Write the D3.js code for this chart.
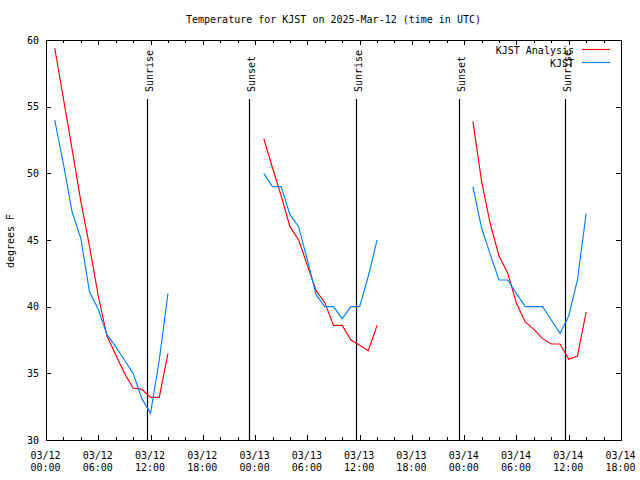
<!DOCTYPE html>
<html><head><meta charset="utf-8">
<script src="https://cdn.jsdelivr.net/npm/d3@7"></script>
<style>
body{margin:0;background:#fff}
text{font-family:"DejaVu Sans Mono","Liberation Mono",monospace;font-size:10px;fill:#000}
</style>
</head><body><svg id="c" width="640" height="480"></svg>
<script>
// ---- data ----
const titleText = "Temperature for KJST on 2025-Mar-12 (time in UTC)";
const yTitle = "degrees F";
const dates = ["2025-03-12", "2025-03-13", "2025-03-14"];
const hoursOfDay = [1,2,3,4,5,6,7,8,9,10,11,12,13,14];
const analysisDay1 = [59.4,55.6,51.8,47.9,44.5,40.8,37.8,36.4,35.0,33.9,33.8,33.2,33.2,36.5];
const analysisDay2 = [52.6,50.4,48.3,46.0,45.0,43.1,41.2,40.3,38.6,38.6,37.5,37.1,36.7,38.6];
const analysisDay3 = [53.9,49.4,46.2,43.8,42.5,40.25,38.85,38.3,37.6,37.2,37.2,36.05,36.3,39.6];
const obsDay1 = [54.0,50.7,47.1,45.1,41.1,39.8,37.9,37.0,36.0,35.0,33.1,32.0,36.0,41.0];
const obsDay2 = [50.0,49.0,49.0,46.9,46.0,43.5,40.9,40.0,40.0,39.1,40.0,40.0,42.3,45.0];
const obsDay3 = [49.0,45.9,43.9,42.0,42.0,41.0,40.0,40.0,40.0,39.0,38.0,39.3,42.0,47.0];
const seriesNames = ["KJST Analysis", "KJST"];
const seriesColors = ["#ff0000", "#0080ff"];
const sunLabels = ["Sunrise", "Sunset", "Sunrise", "Sunset", "Sunrise"];
const sunTimes = ["2025-03-12T11:37:00Z", "2025-03-12T23:16:00Z", "2025-03-13T11:37:00Z", "2025-03-13T23:21:00Z", "2025-03-14T11:36:00Z"];
const xDomain = ["2025-03-12T00:00:00Z", "2025-03-14T18:00:00Z"];
const yTicks = [30, 35, 40, 45, 50, 55, 60];

// ---- build ----
const svg = d3.select("#c");
const L = 46, R = 621, T = 40, B = 440;
const x = d3.scaleUtc().domain(xDomain.map(d => new Date(d))).range([L, R]);
const y = d3.scaleLinear().domain([30, 60]).range([B, T]);

const tOf = (date, h) => new Date(date + "T" + String(h).padStart(2, "0") + ":00:00Z");
const analysis = [analysisDay1, analysisDay2, analysisDay3];
const obs = [obsDay1, obsDay2, obsDay3];

// title
svg.append("text").attr("x", (L + R) / 2).attr("y", 23).attr("text-anchor", "middle").text(titleText);
// y title
svg.append("text").attr("transform", "translate(14,241) rotate(-90)").attr("text-anchor", "middle").text(yTitle);

const fmtDay = d3.utcFormat("%m/%d"), fmtHr = d3.utcFormat("%H:%M");

// bottom axis major
const xb = svg.append("g").attr("transform", `translate(0,${B})`)
  .call(d3.axisBottom(x).ticks(d3.utcHour.every(6)).tickSizeInner(-5).tickSizeOuter(0).tickPadding(0));
xb.selectAll("text").each(function(d) {
  const t = d3.select(this); t.text(null).attr("y", 0).attr("dy", null);
  t.append("tspan").attr("x", -1).attr("y", 18.5).text(fmtDay(d));
  t.append("tspan").attr("x", -1).attr("y", 30.5).text(fmtHr(d));
});
// bottom minor
svg.append("g").attr("transform", `translate(0,${B})`)
  .call(d3.axisBottom(x).ticks(d3.utcHour.every(2)).tickSizeInner(-3).tickSizeOuter(0).tickFormat(""));
// top mirrored
svg.append("g").attr("transform", `translate(0,${T})`)
  .call(d3.axisTop(x).ticks(d3.utcHour.every(6)).tickSizeInner(-5).tickSizeOuter(0).tickFormat(""));
svg.append("g").attr("transform", `translate(0,${T})`)
  .call(d3.axisTop(x).ticks(d3.utcHour.every(2)).tickSizeInner(-3).tickSizeOuter(0).tickFormat(""));
// left axis
svg.append("g").attr("transform", `translate(${L},0)`)
  .call(d3.axisLeft(y).tickValues(yTicks).tickSizeInner(-5).tickSizeOuter(0).tickPadding(7));
// right mirrored
svg.append("g").attr("transform", `translate(${R},0)`)
  .call(d3.axisRight(y).tickValues(yTicks).tickSizeInner(-5).tickSizeOuter(0).tickFormat(""));
svg.selectAll(".domain").remove();
svg.selectAll(".tick line").attr("stroke", "#000").attr("shape-rendering", "crispEdges");
svg.selectAll("g").attr("font-family", null).attr("font-size", null);

// border
svg.append("rect").attr("x", L + 0.5).attr("y", T + 0.5).attr("width", R - L).attr("height", B - T)
  .attr("fill", "none").attr("stroke", "#000").attr("stroke-width", 1).attr("shape-rendering", "crispEdges");

// sun lines
sunTimes.forEach((s, i) => {
  const xx = Math.round(x(new Date(s))) + 0.5;
  svg.append("line").attr("x1", xx).attr("x2", xx).attr("y1", 99).attr("y2", B)
    .attr("stroke", "#000").attr("stroke-width", 1.2);
  svg.append("text").attr("transform", `translate(${xx + 5},92) rotate(-90)`).text(sunLabels[i]);
});

// series
const line = d3.line().x(d => x(d.t)).y(d => y(d.v));
[analysis, obs].forEach((days, si) => {
  days.forEach((vals, di) => {
    const pts = vals.map((v, k) => ({t: tOf(dates[di], hoursOfDay[k]), v}));
    svg.append("path").datum(pts).attr("d", line).attr("fill", "none")
      .attr("stroke", seriesColors[si]).attr("stroke-width", 1.15);
  });
});

// legend
seriesNames.forEach((n, i) => {
  const yy = 49.5 + i * 13;
  svg.append("text").attr("x", 574).attr("y", yy + 4).attr("text-anchor", "end").text(n);
  svg.append("line").attr("x1", 582).attr("x2", 610).attr("y1", yy).attr("y2", yy)
    .attr("stroke", seriesColors[i]).attr("stroke-width", 1.15);
});
</script></body></html>
